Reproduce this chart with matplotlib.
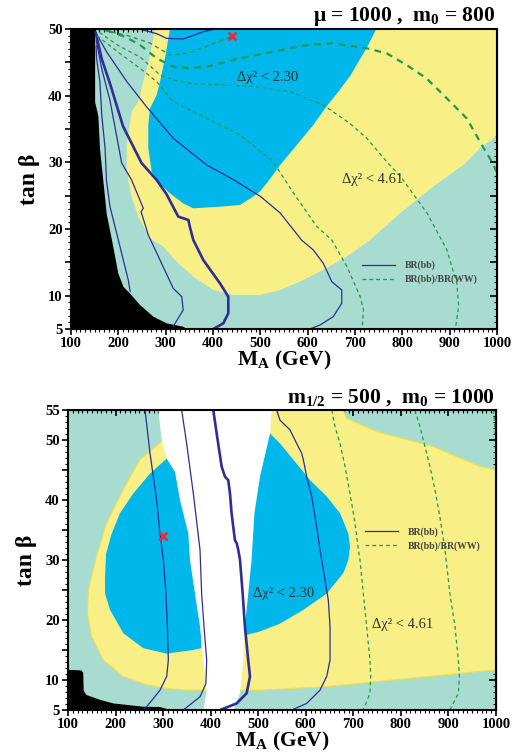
import matplotlib
matplotlib.use('Agg')
import matplotlib.pyplot as plt
from matplotlib.ticker import MultipleLocator, FuncFormatter
from matplotlib.lines import Line2D

plt.rcParams['font.family'] = ['Liberation Serif', 'DejaVu Serif']
plt.rcParams['mathtext.fontset'] = 'custom'
plt.rcParams['mathtext.rm'] = 'Liberation Serif:bold'
plt.rcParams['mathtext.it'] = 'Liberation Serif:bold'
plt.rcParams['mathtext.bf'] = 'Liberation Serif:bold'

TEAL = '#a8dcd0'
YELLOW = '#f8ef86'
YEDGE = '#efe04a'
BLUE = '#00b7ec'
NAVY = '#2e2e96'
GREEN = '#1f9a50'
RED = '#e03040'

# ---------------- top panel data (mu=1000, m0=800) ----------------
top_black = [(100, 5), (100, 50), (151, 50), (151, 39), (157.7, 37), (161.3, 32), (168.2, 27.3),
             (175.4, 22.3), (189.4, 17.3), (200, 13.3), (211, 11.3), (225, 10.3), (245.8, 8.6),
             (273.9, 6.85), (302, 5.85), (337, 5.35), (345, 5)]
top_yellow = [(277.5, 50), (1000, 50), (1000, 34), (964, 32.1), (929, 29.6), (866, 26.4), (796, 22.4),
              (731.7, 18.35), (682.5, 15.85), (626, 13.6), (583.8, 12.1), (541.6, 10.85), (499, 10.1),
              (442.9, 10.1), (400.6, 10.85), (358.4, 12.85), (323, 15.1), (295, 17.35), (267, 18.6),
              (242, 21.85), (228, 24.85), (221, 27.35), (217.7, 29.1), (217.7, 32.6), (228, 37.6),
              (242, 39.1), (252.8, 42.1), (267, 46.1)]
top_blue = [(309, 50), (745, 50), (725, 47.2), (690, 43), (665, 40.6), (640, 38.4), (612, 35.6),
            (577, 32.6), (542, 29.6), (514, 26.9), (499, 25.6), (485, 24.85), (457, 23.6),
            (414.7, 23.35), (358, 23.1), (337, 23.85), (309, 25.35), (288, 26.8), (270.5, 28.6),
            (263.3, 32.1), (263.3, 35.6), (267, 38.1), (281, 40.1), (288, 42.1), (298.6, 45.6)]
top_br_a = [(153, 47.5), (154, 45.6), (161, 42.1), (165, 37.1), (172, 32.1), (175, 27.2),
            (182.4, 23.35), (196.5, 19.35), (210.5, 15.35), (221, 12.35), (225, 10.6)]
top_br_b = [(153, 48.4), (165, 44), (182, 39.4), (195, 34.5), (207, 29.9), (228, 27.35),
            (252.8, 23.1), (248, 22.6), (263.3, 19.1), (288, 15.35), (316, 11.1), (334, 9.85),
            (337, 7.85), (320, 5.85), (316, 5.35)]
top_br_c = [(152, 49.5), (165, 45.5), (182, 41.9), (210, 35.4), (249, 29.9), (281, 27.35),
            (302, 25.2), (326.7, 21.85), (348, 21.35), (351, 20.35), (358.4, 18.35), (379.5, 15.35),
            (414.7, 11.85), (432.3, 9.85), (432.3, 7.35), (421.8, 5.85), (400.6, 5)]
top_br_d = [(152, 49.5), (175, 46.6), (218, 42.1), (260, 38.3), (290, 35.8), (316, 33.6),
            (386.7, 29.6), (443, 27.4), (500, 24.9), (542, 22.4), (587, 18.35), (612, 16.85),
            (633, 14.85), (651, 12.1), (672, 10.85), (672, 8.85), (654, 6.85), (626, 5.6), (605, 5)]
top_br_e = [(245, 50), (260, 49.7), (281, 49.3), (302, 48.6), (337, 48.5), (380, 49.6), (405, 50)]
top_ww_a = [(170, 49.8), (220, 49), (267, 47.9), (309, 46.1), (351, 46.4), (394, 47.6), (436, 48.8), (452, 49.6)]
top_ww_b = [(175, 49.8), (215, 48.8), (246, 47.6), (281, 45.6), (316, 44.35), (351, 44.1), (387, 44.35),
            (457, 45.6), (527, 46.6), (598, 47.6), (654, 47.85), (725, 47.1), (767, 46.35), (809, 44.6),
            (851, 42.6), (894, 39.6), (936, 36.6), (964, 33.1), (989, 30.1), (1000, 28.5)]
top_ww_c = [(160, 49.5), (200, 47.5), (246, 45.8), (288, 43.1), (316, 42.35), (351, 41.85), (422, 41.6),
            (492, 41.35), (563, 40.6), (633, 38.6), (689, 35.85), (725, 33.6), (767, 30.1), (796, 27.9),
            (852, 22.4), (894, 16.9), (915, 11.9), (919, 8.4), (912, 5)]
top_ww_d = [(155, 49), (200, 46.5), (246, 44.1), (281, 42.1), (316, 39.1), (387, 36.6), (457, 34.1),
            (527, 30.1), (570, 25.4), (619, 20.4), (651, 18.35), (683, 14.35), (711, 9.85), (718, 7.85),
            (715, 5)]
top_best = (440, 49)

# ---------------- bottom panel data (m1/2=500, m0=1000) ----------------
bot_black = [(100, 5), (100, 11.7), (128, 11.6), (132, 11.2), (133, 8.2), (139, 7.5), (167, 6.7),
             (195, 6.1), (258, 5.55), (293, 5.5), (307, 5.2), (308, 5)]
bot_yellow_left = [(300.5, 50), (251, 46.7), (216, 41.7), (181, 36.1), (160, 30.6), (143, 25),
                   (140.7, 21.1), (149.8, 17.2), (174.3, 13.3), (216, 10.6), (265.4, 9.2), (307.5, 8.6),
                   (349.6, 8.3), (388, 8.3), (400, 8.3), (420, 30)]
bot_yellow_right = [(461.7, 8.3), (503.7, 8.3), (644, 8.9), (784, 10), (924, 11.1), (1000, 11.7),
                    (1000, 45), (966, 45.6), (868, 48.9), (749, 51.4), (686, 53.6), (679, 55), (500, 55),
                    (470, 30), (450, 8.3)]
bot_blue_left = [(307.5, 46.9), (272.4, 44.4), (237.3, 41.1), (209.3, 37.8), (191.9, 34.4), (180, 31),
                 (177.8, 27), (178, 24.4), (188.3, 21.7), (216.3, 17.8), (258.3, 15.3), (307.5, 14.4),
                 (363.5, 15), (380, 15.3), (385, 20), (370, 30), (340, 45), (315, 48)]
bot_blue_right = [(525, 51.1), (546, 49.4), (574, 46.7), (609, 43.3), (644, 40.6), (672, 37.8),
                  (689.5, 34.4), (693, 32.2), (689.5, 30), (679, 27.8), (644, 24.4), (595, 21.7),
                  (546, 19.4), (504, 18.1), (475, 17.5), (460, 25), (480, 45), (510, 52)]
bot_white = [(290, 55), (528, 55), (525, 51.1), (504, 44), (492, 37.8), (486, 30), (479, 24.4),
             (472, 18.9), (468.6, 13.3), (461.7, 7.8), (447.6, 5), (384.5, 5), (391.6, 8.3),
             (384.5, 13.3), (377.6, 18.9), (367, 24.4), (356.5, 30), (353, 34.4), (335.5, 40),
             (325, 44.7), (307.5, 46.9), (297, 50)]
bot_br_a = [(262, 55), (272.4, 47.8), (286.4, 40), (293.5, 34.4), (300.5, 30), (306, 24.4), (309, 18.9),
            (311, 13.3), (307.5, 10.6), (293.5, 8.3), (265.4, 5.55), (258, 5)]
bot_br_b = [(339, 55), (349.5, 49.4), (363.5, 41.1), (377.6, 31.7), (381, 24.4), (386, 18.9),
            (391.6, 13.3), (390, 9.4), (377.6, 7.2), (342.5, 5)]
bot_br_c = [(405.5, 55), (412.6, 51.1), (423, 45.6), (430, 43.9), (437, 43.3), (440.6, 41.1), (444, 37.8),
            (451, 33.3), (454.7, 32.8), (458, 31.7), (461.7, 30), (467.3, 24.4), (472, 18.9), (479, 13.3),
            (482.7, 10.6), (475.7, 7.8), (454.7, 6.1), (419.6, 5)]
bot_br_d = [(538.8, 55), (545.8, 53.3), (566.8, 51.7), (580.9, 49.4), (591.4, 47.8), (594.9, 46.7),
            (601.9, 43.9), (612.4, 40.6), (619.4, 37.2), (622.9, 35.6), (629.9, 31.7), (633.5, 30),
            (640.4, 26.7), (647.4, 23.3), (651, 18.9), (651, 13.3), (644, 10.6), (629.9, 8.3),
            (601.9, 6.1), (570.4, 5)]
bot_ww_a = [(654.5, 55), (661.5, 52.2), (672, 49.4), (682.5, 45.6), (693, 41.1), (703.6, 36.1),
            (710.6, 31.7), (714, 30), (721, 24.4), (728, 18.9), (735, 13.3), (736.5, 10.6), (735, 7.8),
            (721, 5)]
bot_ww_b = [(829.6, 55), (840, 52.2), (850.7, 48.9), (861, 45.6), (871.7, 41.7), (882, 37.2),
            (892.8, 31.7), (903, 24.4), (913.8, 18.9), (920.8, 13.3), (923, 10.6), (920.8, 7.8), (903, 5)]
bot_ww_c = [(995, 55), (997, 52.5), (999, 50)]
bot_best = (300, 34)

x_ticks = [100, 200, 300, 400, 500, 600, 700, 800, 900, 1000]
top_y_labels = [5, 10, 20, 30, 40, 50]
bot_y_labels = [5, 10, 20, 30, 40, 50, 55]


def fill(ax, pts, color, z, edge=None):
    xs = [p[0] for p in pts]
    ys = [p[1] for p in pts]
    ax.fill(xs, ys, color=color, lw=0, zorder=z)
    if edge is not None:
        ax.fill(xs, ys, facecolor='none', edgecolor=edge, lw=0.8, zorder=z)


def line(ax, pts, color, lw, ls='-', z=5):
    ax.plot([p[0] for p in pts], [p[1] for p in pts], color=color, lw=lw, ls=ls, zorder=z,
            solid_capstyle='round')


def setup_axes(ax, ymax, ylabels):
    ax.set_xlim(100, 1000)
    ax.set_ylim(5, ymax)
    ax.set_facecolor(TEAL)
    for s in ax.spines.values():
        s.set_linewidth(1.5)
        s.set_zorder(10)
    ax.xaxis.set_major_locator(plt.FixedLocator(x_ticks))
    ax.xaxis.set_minor_locator(MultipleLocator(10))
    ax.yaxis.set_major_locator(MultipleLocator(5))
    ax.yaxis.set_minor_locator(MultipleLocator(1))
    ax.yaxis.set_major_formatter(FuncFormatter(
        lambda v, p: f'{int(round(v))}' if int(round(v)) in ylabels else ''))
    ax.tick_params(which='major', direction='out', length=4, width=1.2, labelsize=10.5, pad=2)
    ax.tick_params(which='minor', direction='out', length=2, width=0.8)
    for lab in ax.get_xticklabels() + ax.get_yticklabels():
        lab.set_fontweight('bold')
    sx = ax.secondary_xaxis('top')
    sx.xaxis.set_major_locator(plt.FixedLocator(x_ticks))
    sx.xaxis.set_minor_locator(MultipleLocator(10))
    sx.tick_params(which='major', direction='in', length=4, width=1.2, labeltop=False)
    sx.tick_params(which='minor', direction='in', length=2, width=0.8)
    sy = ax.secondary_yaxis('right')
    sy.yaxis.set_major_locator(MultipleLocator(5))
    sy.yaxis.set_minor_locator(MultipleLocator(1))
    sy.tick_params(which='major', direction='in', length=5, width=1.2, labelright=False)
    sy.tick_params(which='minor', direction='in', length=2.5, width=0.8)
    ax.set_xlabel(r'M$_\mathrm{A}$ (GeV)', fontsize=15.5, fontweight='bold', labelpad=-1)
    ax.set_ylabel('tan β', fontsize=17, fontweight='bold', labelpad=6)


def add_legend(ax, anchor):
    handles = [Line2D([], [], color=NAVY, lw=0.9),
               Line2D([], [], color=GREEN, lw=0.9, ls=(0, (3, 2.5)))]
    leg = ax.legend(handles, ['BR(bb)', 'BR(bb)/BR(WW)'], loc='center left', bbox_to_anchor=anchor,
                    frameon=False, borderpad=0, borderaxespad=0, handlelength=3.4, handletextpad=1.0,
                    labelspacing=0.45, prop=dict(family='Liberation Serif', weight='bold', size=7))
    for t in leg.get_texts():
        t.set_color('#444444')
    leg.set_zorder(8)


fig = plt.figure(figsize=(5.13, 7.55), dpi=100)

# ---------------- top panel ----------------
ax1 = fig.add_axes([71 / 513, 1 - 329 / 755, 426 / 513, 300 / 755])
fill(ax1, top_yellow, YELLOW, 1)
fill(ax1, top_blue, BLUE, 2)
fill(ax1, top_black, 'black', 3)
for pts, lw in [(top_br_a, 0.9), (top_br_b, 0.9), (top_br_c, 1.9), (top_br_d, 0.9), (top_br_e, 0.9)]:
    line(ax1, pts, NAVY, lw)
for pts, lw in [(top_ww_a, 1.0), (top_ww_b, 1.6), (top_ww_c, 0.9), (top_ww_d, 0.9)]:
    line(ax1, pts, GREEN, lw, ls=(0, (3, 2.5)))
ax1.plot(*top_best, marker='x', color=RED, ms=6, mew=2, zorder=7, clip_on=False)
ax1.text(451, 42.8, 'Δχ² < 2.30', fontsize=10.5, color='#333333', va='center', ha='left', zorder=8)
ax1.text(672, 27.35, 'Δχ² < 4.61', fontsize=10.5, color='#333333', va='center', ha='left', zorder=8)
setup_axes(ax1, 50, top_y_labels)
add_legend(ax1, (0.683, 0.188))
fig.text(495 / 513, 1 - 16 / 755, r'μ = 1000 ,  m$_0$ = 800', ha='right', va='center',
         fontsize=15.5, fontweight='bold')

# ---------------- bottom panel ----------------
ax2 = fig.add_axes([68 / 513, 1 - 710 / 755, 428 / 513, 300 / 755])
fill(ax2, bot_yellow_left, YELLOW, 1, edge=YEDGE)
fill(ax2, bot_yellow_right, YELLOW, 1, edge=YEDGE)
fill(ax2, bot_blue_left, BLUE, 2)
fill(ax2, bot_blue_right, BLUE, 2)
fill(ax2, bot_white, 'white', 3)
fill(ax2, bot_black, 'black', 3)
for pts, lw in [(bot_br_a, 0.9), (bot_br_b, 0.9), (bot_br_c, 1.9), (bot_br_d, 0.9)]:
    line(ax2, pts, NAVY, lw)
for pts in [bot_ww_a, bot_ww_b, bot_ww_c]:
    line(ax2, pts, GREEN, 0.9, ls=(0, (3, 2.5)))
ax2.plot(*bot_best, marker='x', color=RED, ms=6, mew=2, zorder=7)
ax2.text(488, 24.4, 'Δχ² < 2.30', fontsize=10.5, color='#333333', va='center', ha='left', zorder=8)
ax2.text(738.6, 19.2, 'Δχ² < 4.61', fontsize=10.5, color='#333333', va='center', ha='left', zorder=8)
setup_axes(ax2, 55, bot_y_labels)
add_legend(ax2, (0.694, 0.569))
fig.text(495 / 513, 1 - 398 / 755, r'm$_{1/2}$ = 500 ,  m$_0$ = 1000', ha='right', va='center',
         fontsize=15.5, fontweight='bold')

fig.savefig('out.png', dpi=100)
